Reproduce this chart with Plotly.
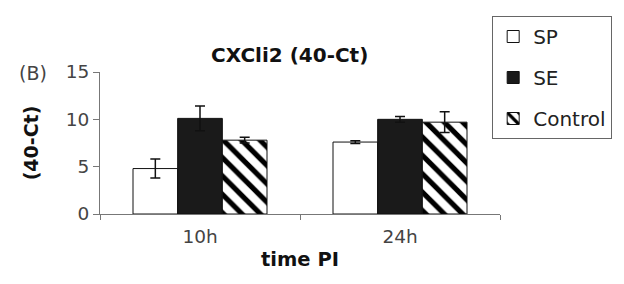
import plotly.graph_objects as go

categories = ["10h", "24h"]
sp_vals = [4.8, 7.6]
sp_err = [1.0, 0.15]
se_vals = [10.1, 10.0]
se_err = [1.3, 0.3]
ctrl_vals = [7.8, 9.7]
ctrl_err = [0.3, 1.1]
y_ticks = [0, 5, 10, 15]

xpos = list(range(len(categories)))
font = "DejaVu Sans, sans-serif"

def err(vals):
    return dict(type="data", array=vals, color="#111", thickness=1.5, width=5, visible=True)

fig = go.Figure()
fig.add_trace(go.Bar(x=xpos, y=sp_vals, name="SP", error_y=err(sp_err), legendgroup="a",
                     marker=dict(color="white", line=dict(color="#111", width=1))))
fig.add_trace(go.Bar(x=xpos, y=se_vals, name="SE", error_y=err(se_err), legendgroup="b",
                     marker=dict(color="#1a1a1a", line=dict(color="#111", width=1))))
fig.add_trace(go.Bar(x=xpos, y=ctrl_vals, name="Control", error_y=err(ctrl_err), legendgroup="c",
                     marker=dict(color="white", line=dict(color="#111", width=1),
                                 pattern=dict(shape="\\", size=13, solidity=0.4, fgcolor="#000",
                                              bgcolor="white", fgopacity=1))))

fig.update_layout(
    width=624, height=284,
    margin=dict(l=100, r=115, t=72, b=70),
    paper_bgcolor="white", plot_bgcolor="white",
    barmode="group", bargap=0.33, bargroupgap=0,
    font=dict(family=font, color="#333", size=18),
    showlegend=True,
    legend=dict(x=(501 - 100) / 409, y=(214 - 16) / 142, xanchor="left", yanchor="top",
                bordercolor="#666", borderwidth=1, font=dict(size=20, color="#222"),
                tracegroupgap=12, bgcolor="white", itemwidth=30),
    xaxis=dict(range=[-0.5, 1.5], tickvals=xpos, ticktext=categories, ticks="",
               showline=True, linecolor="#777", linewidth=1, showgrid=False, zeroline=False,
               tickfont=dict(size=18.5, color="#444"), ticklabelstandoff=6,
               minor=dict(tickvals=[-0.5, 0.5, 1.5], ticks="outside", ticklen=5, tickcolor="#777"),
               title=dict(text="<b>time PI</b>", font=dict(size=19.5, color="#111"), standoff=6)),
    yaxis=dict(range=[0, 15], tickvals=y_ticks, ticks="outside", ticklen=6, tickcolor="#777",
               showline=True, linecolor="#777", linewidth=1, showgrid=False, zeroline=False,
               tickfont=dict(size=18.5, color="#444"),
               title=dict(text="<b>(40-Ct)</b>", font=dict(size=19, color="#111"), standoff=22)),
)
fig.add_annotation(text="<b>CXCli2 (40-Ct)</b>", xref="paper", yref="paper",
                   x=(294 - 100) / 409, y=(214 - 55) / 142, xanchor="center", yanchor="middle",
                   showarrow=False, font=dict(size=20, color="#111"))
fig.add_annotation(text="(B)", xref="paper", yref="paper",
                   x=(32 - 100) / 409, y=(214 - 73) / 142, xanchor="center", yanchor="middle",
                   showarrow=False, font=dict(size=19, color="#444"))

fig.write_html("out.html")
